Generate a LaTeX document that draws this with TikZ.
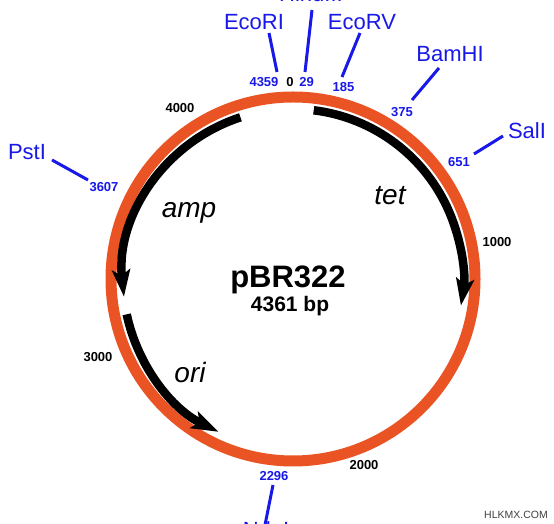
\documentclass[tikz,border=0pt]{standalone}
\usepackage{fontspec}
\setmainfont{Liberation Sans}
\usetikzlibrary{arrows.meta}
\definecolor{ringorange}{RGB}{234,84,36}
\definecolor{siteblue}{RGB}{24,24,232}

\begin{document}
\begin{tikzpicture}[x=1pt, y=1pt, >={Stealth[length=27pt,width=18pt,inset=6pt]}, ring/.style={draw=ringorange, line width=11pt}, gene/.style={->, line width=8.5pt}, genename/.style={anchor=base, font=\fontsize{28}{30}\selectfont\itshape}, sitename/.style={anchor=base, text=siteblue, font=\fontsize{22}{24}\selectfont}, sitepos/.style={anchor=base, text=siteblue, font=\fontsize{13}{14}\selectfont\bfseries}, scalemark/.style={anchor=base, font=\fontsize{13}{14}\selectfont\bfseries}, siteline/.style={draw=siteblue, line width=3pt}]
	\fill[white] (0,0) rectangle (554,524);
	\useasboundingbox (0,0) rectangle (554,524);
	\coordinate (c) at (293,245);
	\draw[ring] (c) circle[radius=182pt];
	\draw[gene] ([shift={(83:170)}]c) arc[start angle=83, end angle=-9, radius=170pt];
	\draw[gene] ([shift={(108:170)}]c) arc[start angle=108, end angle=186, radius=170pt];
	\draw[gene] ([shift={(192:170)}]c) arc[start angle=192, end angle=244, radius=170pt];
	\node[genename] (tet) at (390,319) {tet};
	\node[genename] (amp) at (189,306) {amp};
	\node[genename] (ori) at (190,141) {ori};
	\node[anchor=base, font=\fontsize{31}{33}\selectfont\bfseries] (plasmid) at (288,236) {pBR322};
	\node[anchor=base, font=\fontsize{21}{23}\selectfont\bfseries] (length) at (290,212) {4361 bp};
	\foreach \t/\x/\y in {0/290/437, 1000/497/277, 2000/364/54, 3000/98/162, 4000/180/411}
		\node[scalemark] (t\t) at (\x,\y) {\t};
	\foreach \s/\lab/\lx/\ly/\cut/\px/\py/\ax/\ay/\bx/\by in {ecori/EcoRI/254/494/4359/264/437/277/452/269/491, hindiii/HindIII/311/522/29/306.5/437/305/452/312/514, ecorv/EcoRV/362/494/185/343.5/432/342/447/360/491, bamhi/BamHI/450/462/375/402/407/412/424/439/456, sali/SalI/527/385/651/459/357/474/370/503/388, psti/PstI/27/364/3607/104/332/52/364/88/344, ndei/NdeI/266/-13.5/2296/274/43/273/39/265/-1} {
		\node[sitename] (\s) at (\lx,\ly) {\lab};
		\node[sitepos] (p\s) at (\px,\py) {\cut};
		\coordinate (\s-a) at (\ax,\ay); \coordinate (\s-b) at (\bx,\by);
		\draw[siteline] (\s-a) -- (\s-b);
	}
	\node[anchor=base, text=darkgray, font=\fontsize{10.5}{12}\selectfont] (mark) at (516,5) {HLKMX.COM};
\end{tikzpicture}
\end{document}
